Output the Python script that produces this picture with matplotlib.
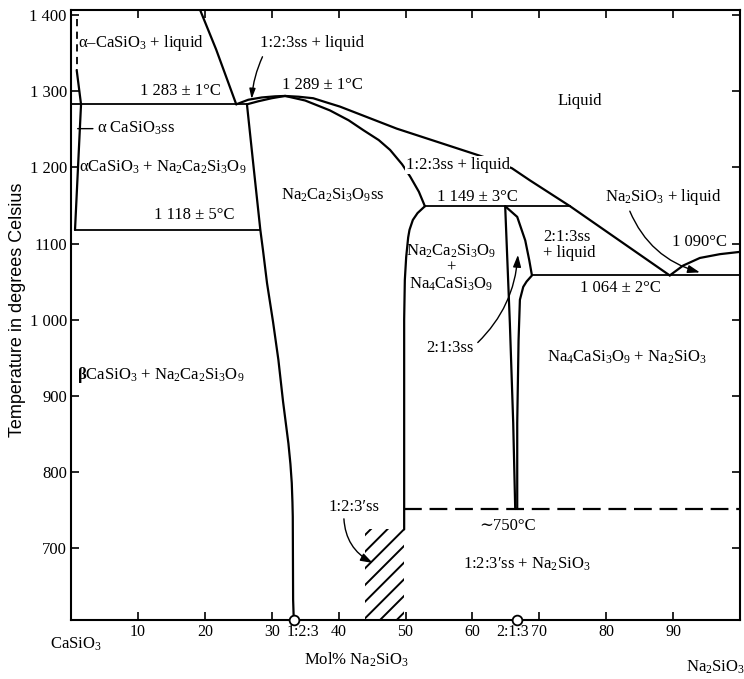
import matplotlib
matplotlib.use("Agg")
from matplotlib import pyplot as plt

plt.rcParams['font.family'] = ['Liberation Serif', 'DejaVu Serif']
plt.rcParams['mathtext.fontset'] = 'custom'
plt.rcParams['mathtext.rm'] = 'Liberation Serif'
plt.rcParams['mathtext.it'] = 'Liberation Serif:italic'
plt.rcParams['mathtext.bf'] = 'Liberation Serif:bold'
plt.rcParams['hatch.linewidth'] = 1.4

# ---- phase boundaries (x = mol% Na2SiO3, t = deg C) ----
# CaSiO3 liquidus
cs_liq_x = [19.3, 21.7, 24.7]
cs_liq_t = [1407, 1355, 1283]
# alpha-CaSiO3 solid solution limit
a_dash_x = [0.85, 0.85]
a_dash_t = [1395, 1328]
a_ss_x = [0.85, 1.5, 0.6]
a_ss_t = [1328, 1283, 1118]
# 1:2:3 liquidus (left branch, then right branch down to the eutectic)
liq_l_x = [24.7, 26.5, 28.5, 30.5, 32.0]
liq_l_t = [1283, 1289, 1292, 1293.5, 1294]
liq_r_x = [32.0, 34.0, 36.2, 38.0, 40.2, 48.7, 61.6, 65.9, 68.6, 74.6, 89.5]
liq_r_t = [1294, 1293, 1291, 1286, 1280, 1251, 1214, 1199, 1183, 1149, 1058]
# 1:2:3 solidus
sol_l_x = [26.3, 28.0, 30.0, 32.0]
sol_l_t = [1283, 1287, 1291, 1294]
sol_r_x = [32.0, 35.0, 38.7, 41.5, 43.7, 46.0, 47.7, 49.5, 50.7, 52.0, 52.9]
sol_r_t = [1294, 1288, 1275, 1262, 1249, 1236, 1223, 1204, 1188, 1168, 1149]
# left limit of Na2Ca2Si3O9 ss
ss_l_x = [26.3, 27.3, 28.3, 28.7, 29.3, 30.2, 31.0, 31.7, 32.5, 32.8, 33.0, 33.1, 33.15, 33.2, 33.3]
ss_l_t = [1283, 1200, 1118, 1091, 1048, 997, 947, 892, 837, 810, 785, 760, 741, 632, 605]
# right limit of Na2Ca2Si3O9 ss below 1149
ss_r_x = [52.9, 51.8, 51.1, 50.6, 50.4, 50.1, 49.9, 49.8, 49.8]
ss_r_t = [1149, 1140, 1131, 1118, 1108, 1082, 1052, 1000, 724]
# 2:1:3 solid solution field
n213_l_x = [64.9, 65.6, 66.1, 66.4]
n213_l_t = [1149, 995, 864, 751]
n213_r_x = [64.9, 66.7, 67.9, 68.5, 68.9, 68.1, 67.6, 67.1, 66.9, 66.7, 66.7]
n213_r_t = [1149, 1135, 1104, 1078, 1058, 1050, 1043, 1026, 973, 864, 751]
# Na2SiO3 liquidus
ns_liq_x = [89.5, 91.5, 94.0, 97.0, 100.0]
ns_liq_t = [1058, 1071, 1081, 1086, 1089]
# isotherms: (x from, x to, t)
iso_1283 = [0, 26.3, 1283]
iso_1118 = [0.6, 28.3, 1118]
iso_1149 = [52.9, 74.6, 1149]
iso_1064 = [68.9, 100, 1058]
iso_750 = [49.8, 100, 751]
# 1:2:3' ss hatched field
hatch_x = [43.9, 49.8]
hatch_t = [605, 724]

# compounds on the axis
cmp_x = [100 / 3, 200 / 3]
cmp_lab = ["1:2:3", "2:1:3"]
cmp_lab_x = [34.6, 66.0]
xt = [10, 20, 30, 40, 50, 60, 70, 80, 90]
yt = [700, 800, 900, 1000, 1100, 1200, 1300, 1400]
yt_lab = ["700", "800", "900", "1 000", "1100", "1 200", "1 300", "1 400"]

fig = plt.figure(figsize=(7.44, 6.79), dpi=100)
ax = fig.add_axes([71 / 744, 59 / 679, 669 / 744, 610 / 679])
ax.set_xlim(0, 100)
ax.set_ylim(605, 1407)

k = dict(color="black", lw=1.6, solid_joinstyle="round", solid_capstyle="round")
kt = dict(color="black", lw=1.3)

ax.plot(cs_liq_x, cs_liq_t, **k)
ax.plot(a_dash_x, a_dash_t, color="black", lw=1.3, dashes=(4, 3))
ax.plot(a_ss_x, a_ss_t, **k)
ax.plot(liq_l_x, liq_l_t, **k)
ax.plot(liq_r_x, liq_r_t, **k)
ax.plot(sol_l_x, sol_l_t, **k)
ax.plot(sol_r_x, sol_r_t, **k)
ax.plot(ss_l_x, ss_l_t, **k)
ax.plot(ss_r_x, ss_r_t, **k)
ax.plot(n213_l_x, n213_l_t, **k)
ax.plot(n213_r_x, n213_r_t, **k)
ax.plot(ns_liq_x, ns_liq_t, **k)
for iso in [iso_1283, iso_1118, iso_1149, iso_1064]:
    ax.plot(iso[:2], [iso[2], iso[2]], **kt)
ax.plot(iso_750[:2], [iso_750[2], iso_750[2]], color="black", lw=1.6, dashes=(8, 3.5))

ax.fill_between(hatch_x, hatch_t[0], hatch_t[1], facecolor="none",
                edgecolor="black", linewidth=0, hatch="//")

ax.plot(cmp_x, [605, 605], "o", ms=7, mfc="white", mec="black", mew=1.3,
        clip_on=False, zorder=5)

# ---- labels ----
fs = 12
def lab(x, t, s, **kw):
    kw.setdefault("ha", "center")
    ax.text(x, t, s, fontsize=fs, va="center", **kw)

lab(1.05, 1363, "α–CaSiO$_3$ + liquid", ha="left")
lab(16.3, 1301, "1 283 ± 1°C")
ax.annotate("α CaSiO$_3$ss", xy=(1.0, 1251), xytext=(3.9, 1251), fontsize=fs,
            va="center", ha="left",
            arrowprops=dict(arrowstyle="-", lw=1.0, shrinkA=1, shrinkB=0))
lab(1.2, 1200, "αCaSiO$_3$ + Na$_2$Ca$_2$Si$_3$O$_9$", ha="left")
lab(18.4, 1137, "1 118 ± 5°C")
ax.annotate("1:2:3ss + liquid", xy=(27.0, 1290), xytext=(36.0, 1363),
            fontsize=fs, ha="center", va="center",
            arrowprops=dict(arrowstyle="-|>,head_length=0.5,head_width=0.15",
                            lw=1.0, color="black", shrinkA=2, shrinkB=0,
                            connectionstyle="arc3,rad=0.1",
                            relpos=(0.05, 0.0)))
lab(37.6, 1308, "1 289 ± 1°C")
lab(76.0, 1288, "Liquid")
lab(57.8, 1203, "1:2:3ss + liquid",
    bbox=dict(facecolor="white", edgecolor="none", pad=0.5))
lab(39.2, 1164, "Na$_2$Ca$_2$Si$_3$O$_9$ss")
lab(60.7, 1161, "1 149 ± 3°C")
lab(56.8, 1068, "Na$_2$Ca$_2$Si$_3$O$_9$\n+\nNa$_4$CaSi$_3$O$_9$", linespacing=1.0)
lab(70.6, 1098, "2:1:3ss\n+ liquid", ha="left", linespacing=1.0)
ax.annotate("Na$_2$SiO$_3$ + liquid", xy=(94.0, 1062), xytext=(88.5, 1161),
            fontsize=fs, ha="center", va="center",
            arrowprops=dict(arrowstyle="-|>,head_length=0.6,head_width=0.2",
                            lw=1.0, color="black", shrinkA=1, shrinkB=0,
                            connectionstyle="arc3,rad=0.25",
                            relpos=(0.2, 0.0)))
lab(94.0, 1102, "1 090°C")
lab(82.1, 1041, "1 064 ± 2°C")
ax.annotate("2:1:3ss", xy=(66.8, 1085), xytext=(56.7, 963),
            fontsize=fs, ha="center", va="center",
            arrowprops=dict(arrowstyle="-|>,head_length=0.6,head_width=0.2",
                            lw=1.0, color="black", shrinkA=1, shrinkB=0,
                            connectionstyle="arc3,rad=0.2",
                            relpos=(1.0, 0.6)))
lab(83.1, 950, "Na$_4$CaSi$_3$O$_9$ + Na$_2$SiO$_3$")
lab(0.9, 927, r"$\mathbf{\beta}$CaSiO$_3$ + Na$_2$Ca$_2$Si$_3$O$_9$", ha="left")
ax.annotate("1:2:3′ss", xy=(45.1, 680), xytext=(42.3, 754),
            fontsize=fs, ha="center", va="center",
            arrowprops=dict(arrowstyle="-|>,head_length=0.6,head_width=0.2",
                            lw=1.0, color="black", shrinkA=1, shrinkB=0,
                            connectionstyle="arc3,rad=0.3",
                            relpos=(0.3, 0.0)))
lab(65.2, 728, "∼750°C")
lab(68.1, 678, "1:2:3′ss + Na$_2$SiO$_3$")

# ---- axes ----
for s in ax.spines.values():
    s.set_linewidth(1.5)
ax.set_xticks(xt)
ax.set_xticklabels([str(v) for v in xt])
ax.set_yticks(yt)
ax.set_yticklabels(yt_lab)
ax.tick_params(which="major", direction="in", length=6, width=1.2,
               top=True, right=True, labelsize=12, pad=3)
ax.tick_params(axis="x", labelsize=11.5)

xf = ax.get_xaxis_transform()
for x, s in zip(cmp_lab_x, cmp_lab):
    ax.text(x, -0.0195, s, transform=xf, fontsize=11.5, ha="center", va="center")
ax.text(0.75, -0.040, "CaSiO$_3$", transform=xf, fontsize=12, ha="center", va="center")
ax.text(42.7, -0.066, "Mol% Na$_2$SiO$_3$", transform=xf, fontsize=12, ha="center", va="center")
ax.text(96.3, -0.078, "Na$_2$SiO$_3$", transform=xf, fontsize=12, ha="center", va="center")
fig.text(18 / 744, 1 - 310 / 679, "Temperature in degrees Celsius", rotation=90,
         family="Liberation Sans", fontsize=13, ha="center", va="center")

fig.savefig("out.png", dpi=100)
